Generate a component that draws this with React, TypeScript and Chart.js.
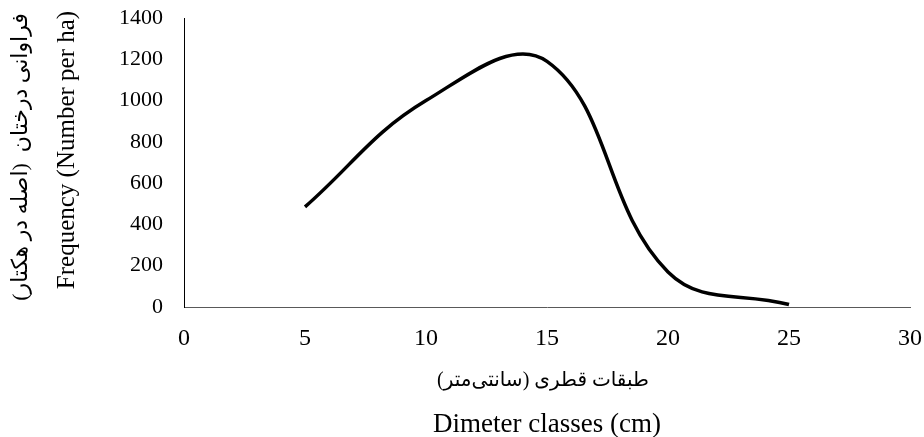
import React, { useEffect, useRef } from "react";
import { Chart, registerables } from "chart.js";

Chart.register(...registerables);

const diameterClasses = [5, 10, 15, 20, 25];
const frequency = [485, 1000, 1190, 170, 12];
const xTicks = [0, 5, 10, 15, 20, 25, 30];
const yTicks = [0, 200, 400, 600, 800, 1000, 1200, 1400];
const xTitleFa = "طبقات قطری (سانتی‌متر)";
const xTitleEn = "Dimeter classes (cm)";
const yTitleFa = "فراوانی درختان  (اصله در هکتار)";
const yTitleEn = "Frequency (Number per ha)";

const FONT = '"Liberation Serif", "Times New Roman", "DejaVu Serif", serif';
const FA_FONT = '"Liberation Serif", "DejaVu Sans", serif';

const axisTitles = {
  id: "axisTitles",
  afterDraw(chart: any) {
    const { ctx, chartArea } = chart;
    ctx.save();
    ctx.fillStyle = "#000";
    ctx.textAlign = "center";
    ctx.textBaseline = "middle";
    ctx.font = `20px ${FA_FONT}`;
    ctx.fillText(xTitleFa, (chartArea.left + chartArea.right) / 2 - 4, chartArea.bottom + 74);
    ctx.restore();

    ctx.save();
    ctx.fillStyle = "#000";
    ctx.textAlign = "center";
    ctx.textBaseline = "middle";
    ctx.translate(21, 157);
    ctx.rotate(-Math.PI / 2);
    ctx.font = `22px ${FA_FONT}`;
    ctx.fillText(yTitleFa, 0, 0);
    ctx.restore();

    ctx.save();
    ctx.fillStyle = "#000";
    ctx.textAlign = "center";
    ctx.textBaseline = "middle";
    ctx.translate(67, 150);
    ctx.rotate(-Math.PI / 2);
    ctx.font = `25px ${FONT}`;
    ctx.fillText(yTitleEn, 0, 0);
    ctx.restore();
  },
};

export default function App() {
  const ref = useRef<HTMLCanvasElement | null>(null);

  useEffect(() => {
    if (!ref.current) return;
    const chart = new Chart(ref.current, {
      type: "line",
      data: {
        datasets: [
          {
            data: diameterClasses.map((x, i) => ({ x, y: frequency[i] })),
            borderColor: "#000000",
            borderWidth: 3.5,
            pointRadius: 0,
            fill: false,
            tension: 0.4,
          },
        ],
      },
      plugins: [axisTitles],
      options: {
        responsive: false,
        animation: false,
        layout: { padding: { top: 18, right: 0, left: 0, bottom: 0 } },
        plugins: { legend: { display: false }, tooltip: { enabled: false } },
        scales: {
          x: {
            type: "linear",
            min: xTicks[0],
            max: xTicks[xTicks.length - 1],
            afterBuildTicks: (s: any) => {
              s.ticks = xTicks.map((v) => ({ value: v }));
            },
            afterFit: (s: any) => {
              s.height = 130;
              s.paddingRight = 14;
              s.paddingLeft = 0;
            },
            grid: { display: false, drawTicks: false },
            border: { display: true, color: "#595959", width: 1 },
            ticks: {
              color: "#000",
              padding: 17,
              font: { family: FONT, size: 24 },
              maxRotation: 0,
              callback: (v: any) => String(v),
            },
            title: {
              display: true,
              text: xTitleEn,
              color: "#000",
              font: { family: FONT, size: 27, lineHeight: 1 },
              padding: { top: 0, bottom: -1 },
            },
          },
          y: {
            type: "linear",
            min: yTicks[0],
            max: yTicks[yTicks.length - 1],
            afterBuildTicks: (s: any) => {
              s.ticks = yTicks.map((v) => ({ value: v }));
            },
            afterFit: (s: any) => {
              s.width = 184;
              s.paddingTop = 0;
              s.paddingBottom = 0;
            },
            grid: { display: false, drawTicks: false },
            border: { display: true, color: "#000000", width: 1 },
            ticks: {
              color: "#000",
              padding: 21,
              font: { family: FONT, size: 22 },
              callback: (v: any) => String(v),
            },
            title: { display: false },
          },
        },
      },
    });
    return () => chart.destroy();
  }, []);

  return (
    <div style={{ position: "fixed", left: 0, top: 0, width: 924, height: 437, background: "#fff" }}>
      <canvas ref={ref} width={924} height={437} style={{ display: "block" }} />
    </div>
  );
}
